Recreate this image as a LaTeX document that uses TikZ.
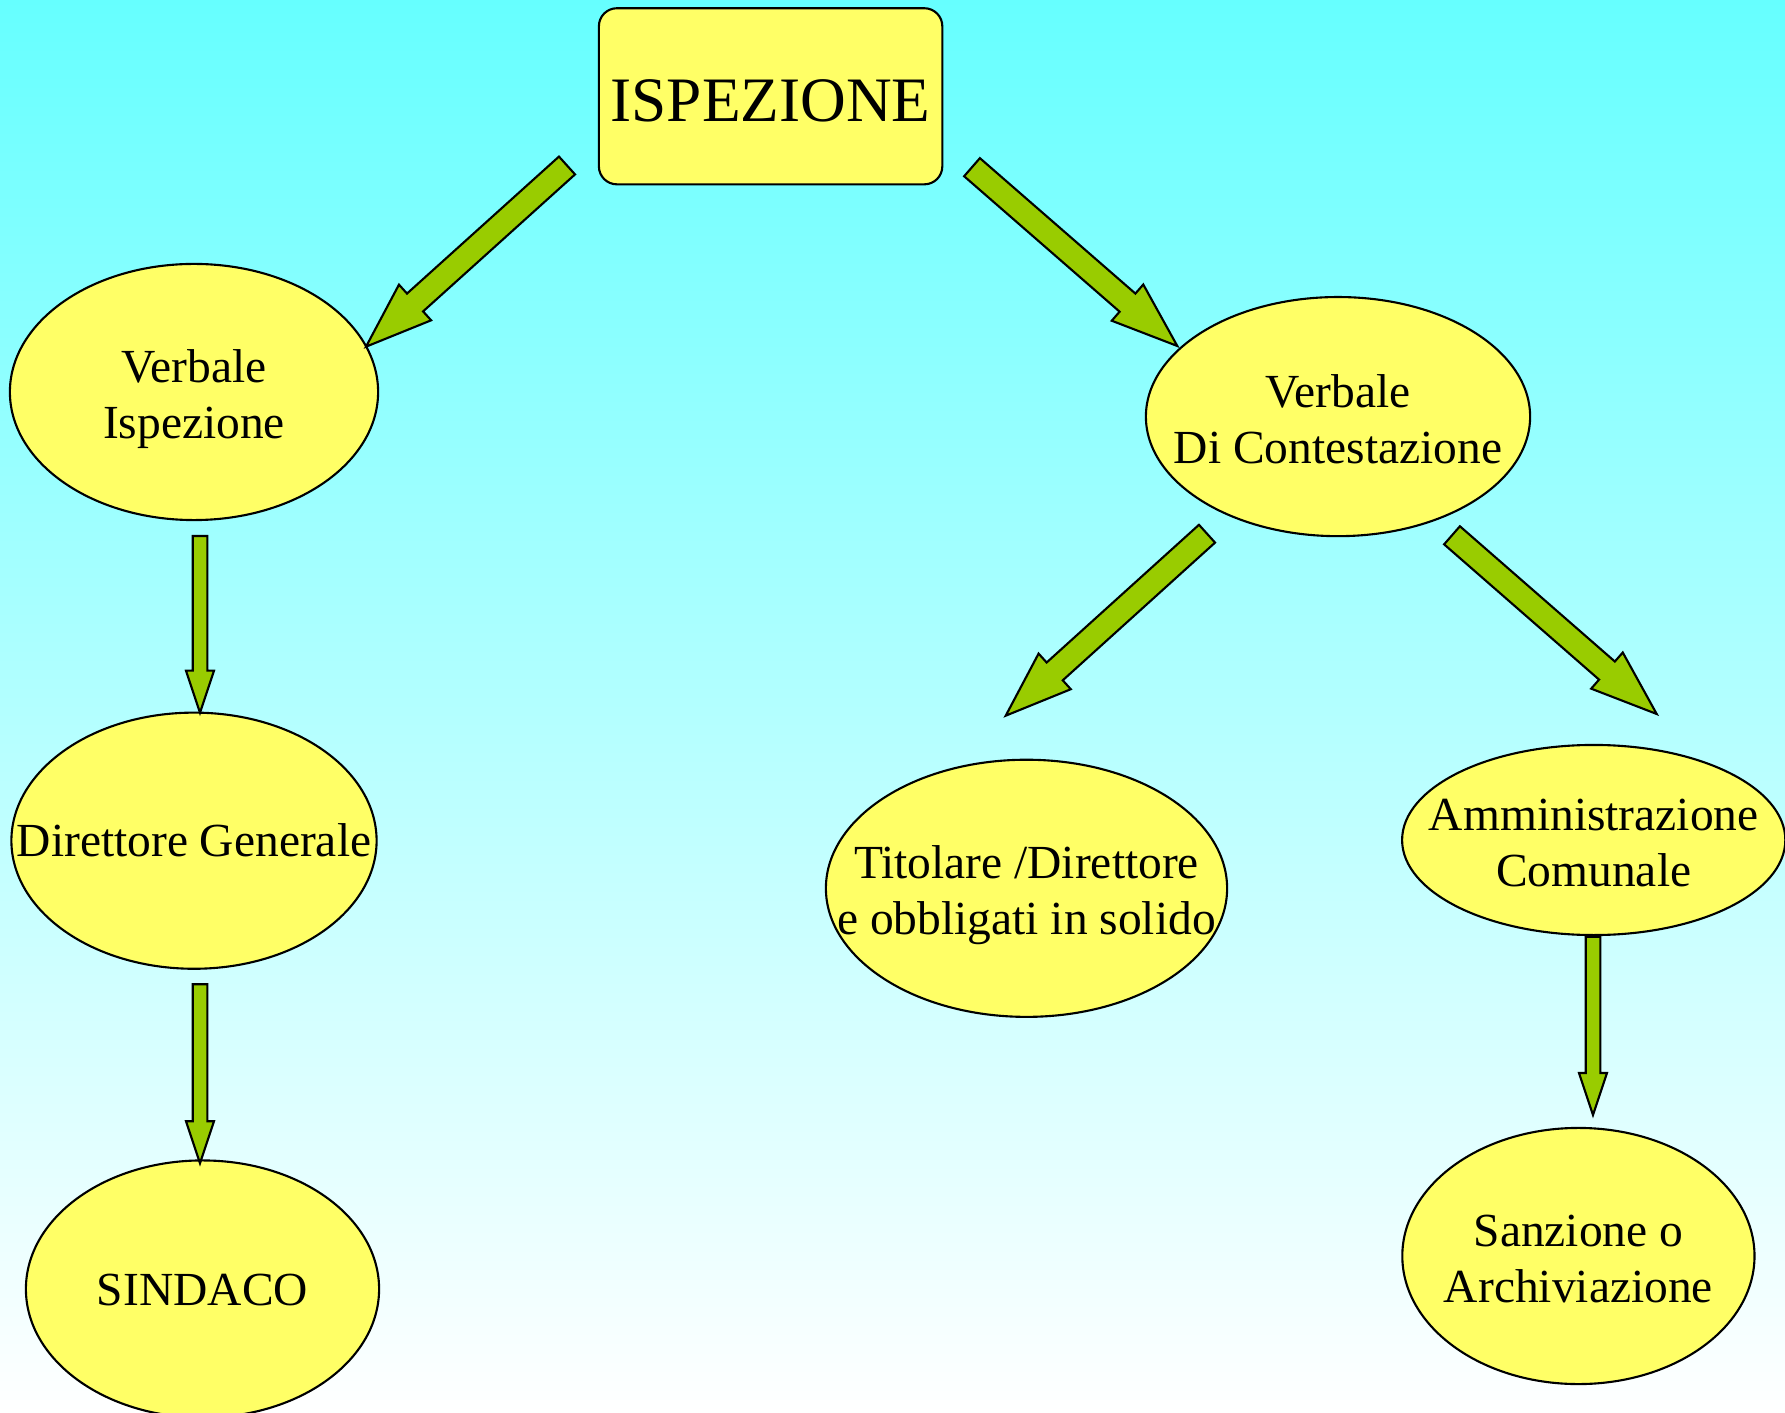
\documentclass[tikz,border=0pt]{standalone}
\usepackage{fontspec}
\setmainfont{Liberation Serif}
\usepackage{tikz}
\usetikzlibrary{shapes.geometric, calc}
\definecolor{bgcyan}{RGB}{102, 255, 255}
\definecolor{nodeyellow}{RGB}{255, 255, 102}
\definecolor{arrowgreen}{RGB}{153, 204, 0}

\tikzset{
  bubbletext/.style={align=center, font=\fontsize{13.5}{16}\selectfont},
  bubble/.style n args={4}{ellipse, draw, line width=0.6pt, fill=nodeyellow, inner sep=0pt,
    minimum width=#1, minimum height=#2, label={[bubbletext, yshift=#4]center:{#3}}},
  topbox/.style={rectangle, rounded corners=0.18cm, draw, line width=0.6pt, fill=nodeyellow,
    minimum width=3.37cm, minimum height=1.76cm, text height=0.51cm, text depth=0pt,
    font=\fontsize{18}{21}\selectfont},
  bigarrow/.style={draw, line width=0.6pt, fill=arrowgreen, line join=miter}
}

% block arrow: tail, tip, shaft half width, head half width, head length
\newcommand{\blockarrow}[5]{%
  \coordinate (hb) at ($(#2)!#5!(#1)$);
  \draw[bigarrow] ($(#1)!#3!90:(#2)$) -- ($(hb)!#3!-90:(#1)$) -- ($(hb)!#4!-90:(#1)$)
    -- (#2) -- ($(hb)!#4!90:(#1)$) -- ($(hb)!#3!90:(#1)$) -- ($(#1)!#3!-90:(#2)$) -- cycle;
}

\begin{document}
\begin{tikzpicture}[x=0.01cm, y=-0.01cm]
\useasboundingbox (0,0) rectangle (1785,1413);
% Background
\shade[top color=bgcyan, bottom color=white] (0,0) rectangle (1785,1413);

% Top box
\node[topbox] (isp) at (770.6,96.3) {ISPEZIONE};

% Left branch
\node[bubble={3.68cm}{2.56cm}{Verbale\\Ispezione}{-0.07cm}] (vi) at (194,392) {};
\node[bubble={3.65cm}{2.56cm}{Direttore Generale}{0cm}] (dg) at (194,840.7) {};
\node[bubble={3.53cm}{2.57cm}{SINDACO}{-0.01cm}] (sin) at (202.5,1289) {};

% Right branch
\node[bubble={3.84cm}{2.39cm}{Verbale\\Di Contestazione}{-0.025cm}] (vc) at (1338,416.6) {};
\node[bubble={4.01cm}{2.57cm}{Titolare /Direttore\\e obbligati in solido}{-0.07cm}] (tit) at (1026.5,888.3) {};
\node[bubble={3.83cm}{1.90cm}{Amministrazione\\Comunale}{-0.03cm}] (amm) at (1593.7,840) {};
\node[bubble={3.52cm}{2.56cm}{Sanzione o\\Archiviazione}{-0.03cm}] (san) at (1578.4,1256) {};

% Arrow ends
\coordinate (d1t) at (567,165.5);   \coordinate (d1h) at (366,346.7);
\coordinate (d2t) at (972,167.2);   \coordinate (d2h) at (1177.3,346);
\coordinate (d3t) at (1207,533.7);  \coordinate (d3h) at (1005.7,715.7);
\coordinate (d4t) at (1452,535.3);  \coordinate (d4h) at (1656.7,714);
\coordinate (v1t) at (200,536);     \coordinate (v1h) at (200,712.7);
\coordinate (v2t) at (200,984.3);   \coordinate (v2h) at (200,1163.3);
\coordinate (v3t) at (1593,936.7);  \coordinate (v3h) at (1593,1115);

% Diagonal arrows
\foreach \a/\b in {d1t/d1h, d2t/d2h, d3t/d3h, d4t/d4h} {
    \blockarrow{\a}{\b}{0.12cm}{0.24cm}{0.66cm}
}

% Vertical arrows
\foreach \a/\b in {v1t/v1h, v2t/v2h, v3t/v3h} {
    \blockarrow{\a}{\b}{0.073cm}{0.14cm}{0.42cm}
}
\end{tikzpicture}
\end{document}
